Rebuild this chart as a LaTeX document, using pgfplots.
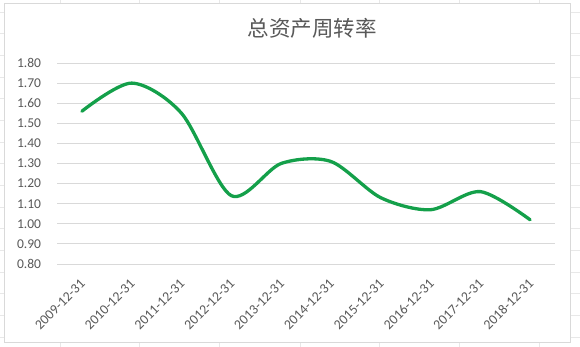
\documentclass[border=0pt]{standalone}
\usepackage{pgfplots}
\pgfplotsset{compat=1.18}
\usepackage{fontspec}
\setmainfont{Carlito}
\newfontfamily\cjk{Noto Sans CJK SC}
\definecolor{txt}{HTML}{595959}
\definecolor{grd}{HTML}{D9D9D9}
\definecolor{lin}{HTML}{14A04A}
\definecolor{sheet}{HTML}{E8E8E8}
\begin{document}
\begin{tikzpicture}
\useasboundingbox (0,0) rectangle (580pt,347pt);
% spreadsheet background grid
\foreach \xx in {60,139,219,300,379,459,539} {\draw[sheet,line width=0.6pt] (\xx pt,0) -- (\xx pt,347pt);}
\foreach \yy in {12,33.5,55,77,98.5,120,142,163.5,185,207,228.5,250,272,293.5,315,337} {\draw[sheet,line width=0.6pt] (0,347pt-\yy pt) -- (580pt,347pt-\yy pt);}
% chart area
\fill[white] (4pt,347pt-342pt) rectangle (570pt,347pt-3pt);
\draw[grd,line width=0.7pt] (4pt,347pt-342pt) rectangle (570pt,347pt-3pt);
\node[text=txt,font=\cjk\fontsize{21.5}{24}\selectfont] at (312pt,347pt-28pt) {总资产周转率};
\begin{axis}[
  at={(57pt,83pt)}, anchor=south west,
  scale only axis, width=498pt, height=201pt,
  xmin=-0.5, xmax=9.5, ymin=0.8, ymax=1.8,
  axis line style={draw=none},
  tick style={draw=none},
  ytick={0.8,0.9,...,1.81},
  ymajorgrids, grid style={grd,line width=0.9pt},
  yticklabel style={text=txt,font=\fontsize{13.5}{16}\selectfont,/pgf/number format/.cd,fixed,fixed zerofill,precision=2,assume math mode=true},
  yticklabel shift=12.5pt,
  xtick={0,...,9},
  xticklabels={2009-12-31,2010-12-31,2011-12-31,2012-12-31,2013-12-31,2014-12-31,2015-12-31,2016-12-31,2017-12-31,2018-12-31},
  xticklabel style={text=txt,font=\fontsize{13.8}{16}\selectfont,rotate=45,anchor=north east,inner sep=0pt,xshift=-11.6pt,yshift=-8.2pt},
  clip=false,
]
\addplot[lin,line width=3.3pt,smooth,tension=0.5,line cap=round] coordinates {
(0,1.56) (1,1.70) (2,1.55) (3,1.14) (4,1.30) (5,1.31) (6,1.13) (7,1.07) (8,1.16) (9,1.02)
};
\end{axis}
\end{tikzpicture}
\end{document}
